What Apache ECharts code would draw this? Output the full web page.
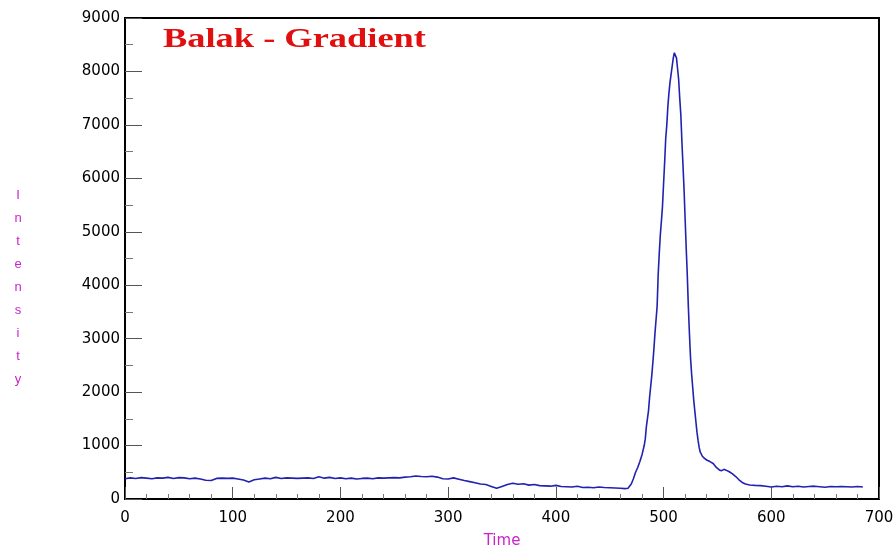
<!DOCTYPE html>
<html>
<head>
<meta charset="utf-8">
<script src="https://cdn.jsdelivr.net/npm/echarts@6/dist/echarts.min.js"></script>
<style>
html,body{margin:0;padding:0;background:#fff;}
#chart{width:896px;height:551px;}
</style>
</head>
<body>
<div id="chart"></div>
<script>
var chartTitle = 'Balak - Gradient';
var xAxisName = 'Time';
var yAxisName = 'Intensity';

var time = [0,5,10,15,20,25,30,35,40,45,50,55,60,65,70,75,80,85,90,95,100,105,110,115,120,125,130,135,140,145,150,155,160,165,170,175,180,185,190,195,200,205,210,215,220,225,230,235,240,245,250,255,260,265,270,275,280,285,290,295,300,305,310,315,320,325,330,335,340,345,350,355,360,365,370,375,380,385,390,395,400,405,410,415,420,425,430,435,440,445,450,455,460,464,467,470,472,474,476,478,480,482,483,484,485,486,487,488,489,490,491,492,493,494,495,496,497,498,499,500,501,502,503,504,505,506,507,508,509,510,511,512,513,514,515,516,517,518,519,520,521,522,523,524,525,526,527,528,529,530,531,532,533,534,536,538,540,543,546,549,552,554,556,558,561,564,567,570,573,576,580,585,590,595,600,605,610,615,620,625,630,635,640,645,650,655,660,665,670,675,680,685];

var intensity = [380,395,385,400,390,380,395,390,405,385,400,395,380,390,375,350,345,385,390,385,390,375,355,320,360,375,390,380,405,385,395,390,385,390,395,385,415,390,405,385,395,380,390,375,385,390,380,395,390,395,400,395,410,415,430,420,415,425,410,380,375,395,370,345,325,305,280,270,235,200,235,270,295,275,285,260,270,250,245,240,255,235,230,225,240,215,220,210,225,215,210,205,200,195,200,280,380,500,590,700,830,1000,1120,1350,1500,1650,1900,2100,2300,2540,2800,3100,3350,3600,4200,4600,4950,5200,5480,5900,6300,6750,7000,7350,7600,7800,7950,8100,8250,8350,8380,8250,8050,7850,7500,7200,6700,6250,5800,5250,4700,4200,3600,3100,2650,2350,2100,1850,1650,1450,1250,1100,970,880,800,760,730,700,665,590,540,530,555,540,510,470,420,360,310,280,262,255,250,240,225,240,230,245,230,240,225,235,240,230,220,235,230,235,230,225,235,225];

var seriesData = time.map(function (t, i) { return [t, intensity[i]]; });

var chart = echarts.init(document.getElementById('chart'), null, {renderer: 'canvas'});
var magenta = '#cc22cc';
chart.setOption({
  animation: false,
  backgroundColor: '#ffffff',
  grid: {left: 125, right: 17, top: 18, bottom: 52, show: true, borderColor: '#000', borderWidth: 2,
    backgroundColor: 'transparent', containLabel: false, outerBoundsMode: 'none'},
  graphic: [
    {type: 'text', left: 163, top: 26, scaleX: 1.3, originX: 0,
     style: {text: chartTitle, fill: '#e01010', font: 'bold 28px "Liberation Serif", serif'}},
    {type: 'text', x: 18, y: 184,
     style: {text: yAxisName.split('').join('\n'), fill: magenta, font: '13px "Liberation Sans", Arial, sans-serif', lineHeight: 23, align: 'center', verticalAlign: 'top'}}
  ],
  xAxis: {
    type: 'value', min: 0, max: 700, interval: 100,
    name: xAxisName, nameLocation: 'middle', nameGap: 35,
    nameTextStyle: {color: magenta, fontSize: 15, fontFamily: 'DejaVu Sans'},
    axisLine: {show: true, lineStyle: {color: '#000', width: 2}},
    axisTick: {show: true, inside: true, length: 12, lineStyle: {color: '#555', width: 1}},
    minorTick: {show: true, splitNumber: 5, length: 5, lineStyle: {color: '#777', width: 1}},
    axisLabel: {color: '#000', fontSize: 15, fontFamily: 'DejaVu Sans', margin: 12},
    splitLine: {show: false}
  },
  yAxis: {
    type: 'value', min: 0, max: 9000, interval: 1000,
    axisLine: {show: true, lineStyle: {color: '#000', width: 2}},
    axisTick: {show: true, inside: true, length: 17, lineStyle: {color: '#555', width: 1}},
    minorTick: {show: true, splitNumber: 2, length: 8, lineStyle: {color: '#777', width: 1}},
    axisLabel: {color: '#000', fontSize: 15, fontFamily: 'DejaVu Sans', margin: 5,
      formatter: function (v) { return String(v); }},
    splitLine: {show: false}
  },
  series: [{
    type: 'line', data: seriesData, showSymbol: false, symbol: 'none',
    lineStyle: {color: '#2222b0', width: 1.6}
  }]
});
</script>
</body>
</html>
